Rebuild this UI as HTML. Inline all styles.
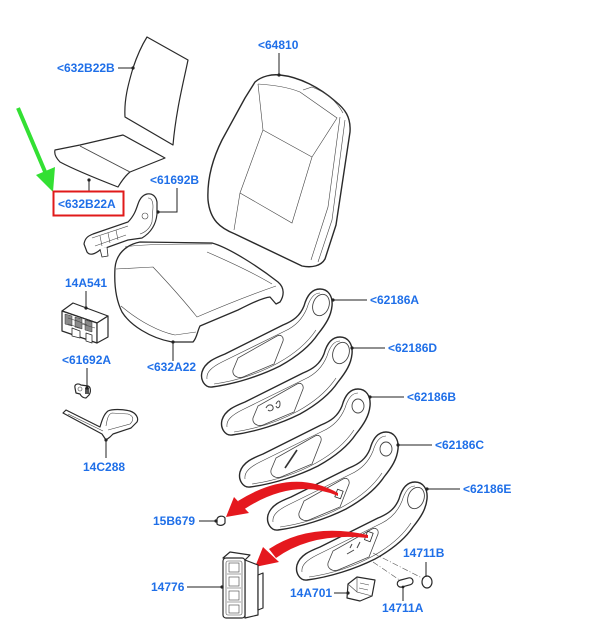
<!DOCTYPE html>
<html><head><meta charset="utf-8">
<style>
html,body{margin:0;padding:0;background:#fff;}
svg{display:block;}
.l{font-family:"Liberation Sans",Arial,sans-serif;font-weight:bold;font-size:12px;fill:#1f6fe8;}
.o{fill:#fff;stroke:#2a2a2a;stroke-width:1.2;stroke-linejoin:round;}
.i{fill:none;stroke:#444;stroke-width:0.6;}
.ld{stroke:#222;stroke-width:1;fill:none;}
</style></head>
<body>
<svg width="600" height="640" viewBox="0 0 600 640" xmlns="http://www.w3.org/2000/svg">
<defs>
<g id="trim">
<path class="o" style="stroke-width:1.4" d="M202,372 C205,362 215,358 225,354 L283,325 C293,321 300,316 304,306 C307,295 312,289 320,289 C328,289 333,296 332,306 C331,316 326,324 318,334 C310,346 298,356 280,366 C260,376 235,384 212,387 C205,388 200,380 202,372 Z"/>
<path class="i" d="M207,379 C206,372 212,367 222,362 L285,331 C296,326 303,318 307,308 C310,298 314,293 320,293"/>
<path class="i" d="M214,384 C235,381 258,374 278,363 C296,353 308,342 316,330"/>
<path class="i" style="stroke-width:0.8" d="M233,370 L238,358 L277,336 C281,334 284,337 283,341 L274,364 L243,377 C237,379 232,375 233,370 Z"/>
</g>
</defs>

<!-- green arrow -->
<line x1="18" y1="108" x2="46" y2="174" stroke="#33e033" stroke-width="4"/>
<polygon points="53,192 36,175 55,167" fill="#33e033"/>

<!-- 632B22B backrest pad -->
<path class="o" d="M147,37 L188,60 C184,80 176,110 173,145 L125,117 C124,100 128,85 133,68 C137,56 142,45 147,37 Z"/>
<line class="ld" x1="118" y1="68" x2="133" y2="68"/><circle cx="133" cy="68" r="1.6" fill="#222"/>
<text class="l" x="57" y="72">&lt;632B22B</text>

<!-- 632B22A seat pad -->
<path class="o" d="M55,150 L80,145 L123,135 L165,158 L130,172 C125,176 121,182 118,187 C100,180 75,170 60,162 C56,158 54,154 55,150 Z"/>
<line class="i" x1="80" y1="146" x2="130" y2="172" style="stroke-width:0.9"/>
<line class="ld" x1="89" y1="180" x2="89" y2="192"/><circle cx="89" cy="180" r="1.6" fill="#222"/>
<rect x="53.5" y="191.5" width="70" height="24" fill="none" stroke="#e01a1a" stroke-width="2"/>
<text class="l" x="58" y="208">&lt;632B22A</text>

<!-- 64810 backrest -->
<path class="o" style="stroke-width:1.4" d="M255,82 C262,76 272,74 280,75 C300,77 320,88 335,101 C345,109 351,117 350,132 L336,225 L325,259 C321,266 312,268 302,266 L235,234 C220,228 210,220 208,200 C207,180 212,160 222,140 L245,98 Z"/>
<path class="i" d="M258,84 L263,130 L240,193 L234,230"/>
<path class="i" d="M263,130 L312,157 L292,223 L240,193"/>
<path class="i" d="M258,84 C275,85 290,88 300,92 L337,118 L312,157"/>
<path class="i" d="M340,117 L328,207 L311,260"/>
<path class="i" d="M345,120 L332,220 L318,262"/>
<path class="i" d="M303,90 L312,87 C325,92 336,100 343,113"/>
<line class="ld" x1="279" y1="53" x2="279" y2="75"/><circle cx="279" cy="75" r="1.6" fill="#222"/>
<text class="l" x="258" y="49">&lt;64810</text>

<!-- 61692B bracket -->
<path class="o" d="M147,194 C152,193 156,196 157,202 L157,214 C156,224 152,232 142,238 L128,240 L100,250 C95,254 90,256 87,252 L84,244 C85,238 88,236 93,234 L128,222 C134,216 136,210 138,204 C140,198 143,195 147,194 Z"/>
<path class="i" d="M148,198 C152,198 153,202 153,207 L152,222 C150,228 146,232 140,234 M92,238 L128,226 M95,246 L126,235"/>
<circle cx="145" cy="216" r="3" class="i"/>
<path class="i" d="M100,236 L102,246 M108,233 L110,243 M116,230 L118,240"/>
<path class="o" style="stroke-width:0.8" d="M100,249 L102,257 L108,256 L107,247"/>
<path class="ld" d="M177,188 L177,212 L158,212"/><circle cx="158" cy="212" r="1.6" fill="#222"/>
<text class="l" x="150" y="184">&lt;61692B</text>

<!-- 632A22 seat cushion -->
<path class="o" style="stroke-width:1.3" d="M115,268 C116,255 125,245 140,242 L212,243 C230,248 260,268 278,282 C285,288 284,296 280,302 L276,304 L270,297 C262,298 250,304 238,310 L200,326 C197,332 197,338 193,342 L172,342 C150,338 130,325 122,312 C116,300 114,285 115,268 Z"/>
<path class="i" d="M116,269 L153,267 C170,285 185,302 197,317 C225,305 250,295 276,286"/>
<path class="i" d="M207,252 C230,262 252,272 272,284"/>
<path class="i" d="M125,247 C140,244 180,244 212,244"/>
<path class="i" d="M121,306 C140,322 160,332 175,335 L196,332"/>
<line class="ld" x1="173" y1="342" x2="173" y2="361"/><circle cx="173" cy="342" r="1.6" fill="#222"/>
<text class="l" x="147" y="371">&lt;632A22</text>

<!-- 14A541 -->
<polygon class="o" points="62,311 73,303 108,316 97,323"/>
<polygon class="o" points="62,311 97,323 97,343 62,331"/>
<polygon class="o" points="97,323 108,316 108,337 97,343"/>
<path d="M65,314 L72,316 L72,326 L65,324 Z M75,317 L82,319 L82,329 L75,327 Z M85,320 L92,322 L92,332 L85,330 Z" fill="#8a8a8a" stroke="#333" stroke-width="0.5"/>
<path class="i" d="M68,318 L80,322 M68,324 L80,328 M75,320 L87,325 M82,324 L95,328"/>
<path class="o" style="stroke-width:0.8" d="M72,328 L72,336 L80,338 L80,331 Z M86,333 L86,341 L92,343 L92,335 Z"/>
<line class="ld" x1="86" y1="291" x2="86" y2="308"/><circle cx="86" cy="308" r="1.6" fill="#222"/>
<text class="l" x="65" y="287">14A541</text>

<!-- 61692A clip -->
<path class="o" d="M75,388 C74,384 78,383 81,385 L88,386 C91,387 91,392 89,395 L86,398 C83,398 81,396 80,394 L76,393 Z"/>
<circle cx="80" cy="389" r="2" class="i"/>
<rect x="85" y="388" width="4" height="6" fill="#555"/>
<line class="ld" x1="87" y1="368" x2="87" y2="388"/><circle cx="87" cy="388" r="1.6" fill="#222"/>
<text class="l" x="62" y="364">&lt;61692A</text>

<!-- 14C288 bracket -->
<path class="o" d="M63,413 L66,410 L100,427 C102,420 104,414 108,411 C112,409 122,409 130,411 C136,413 139,418 137,422 L131,428 L113,434 L110,437 L106,440 L102,434 Z"/>
<path class="i" d="M68,414 L103,431 M108,430 L130,424 C134,420 134,416 128,414 L112,413 C108,414 107,420 106,426"/>
<line class="ld" x1="106" y1="440" x2="106" y2="458"/><circle cx="106" cy="440" r="1.6" fill="#222"/>
<text class="l" x="83" y="471">14C288</text>

<!-- trims -->
<use href="#trim"/>
<use href="#trim" transform="translate(20,48)"/>
<use href="#trim" transform="translate(38,100)"/>
<use href="#trim" transform="translate(66,143)"/>
<use href="#trim" transform="translate(95,193)"/>
<!-- head holes -->
<ellipse cx="321" cy="305" rx="8" ry="11" transform="rotate(20 321 305)" class="i" style="stroke-width:0.9"/>
<ellipse cx="341" cy="353" rx="8" ry="11" transform="rotate(20 341 353)" class="i" style="stroke-width:0.9"/>
<ellipse cx="358" cy="406" rx="6" ry="7" class="i" style="stroke-width:0.9"/>
<ellipse cx="386" cy="449" rx="6" ry="7" class="i" style="stroke-width:0.9"/>
<ellipse cx="416" cy="498" rx="8" ry="11" transform="rotate(20 416 498)" class="i" style="stroke-width:0.9"/>
<!-- D switch icon -->
<path class="i" style="stroke-width:1" d="M266,408 C268,404 272,404 273,407 C274,410 270,412 268,410 M276,404 C278,400 280,400 280,404 C280,408 277,409 276,406"/>
<!-- B slash -->
<line x1="285" y1="468" x2="297" y2="450" stroke="#333" stroke-width="1.6"/>
<!-- C small rect -->
<rect x="336" y="490" width="6" height="8" transform="rotate(20 339 494)" class="o" style="stroke-width:0.8"/>
<!-- E small rect & icon -->
<rect x="366" y="532" width="6" height="9" transform="rotate(20 369 536)" class="o" style="stroke-width:0.8"/>
<path class="i" style="stroke-width:1" d="M347,554 L354,550 M350,548 L352,544 M357,548 L360,542"/>
<!-- dash lines -->
<path d="M373,553 L426,580 M373,562 L404,583" stroke="#555" stroke-width="0.6" stroke-dasharray="6,2,1,2" fill="none"/>

<!-- trim leaders & labels -->
<line class="ld" x1="333" y1="300" x2="367" y2="300"/><circle cx="333" cy="300" r="1.6" fill="#222"/>
<text class="l" x="370" y="304">&lt;62186A</text>
<line class="ld" x1="352" y1="348" x2="385" y2="348"/><circle cx="352" cy="348" r="1.6" fill="#222"/>
<text class="l" x="388" y="352">&lt;62186D</text>
<line class="ld" x1="370" y1="397" x2="404" y2="397"/><circle cx="370" cy="397" r="1.6" fill="#222"/>
<text class="l" x="407" y="401">&lt;62186B</text>
<line class="ld" x1="398" y1="445" x2="432" y2="445"/><circle cx="398" cy="445" r="1.6" fill="#222"/>
<text class="l" x="435" y="449">&lt;62186C</text>
<line class="ld" x1="427" y1="489" x2="460" y2="489"/><circle cx="427" cy="489" r="1.6" fill="#222"/>
<text class="l" x="463" y="493">&lt;62186E</text>

<!-- red arrows -->
<path d="M338,493 Q292,467 238,501 L243,510 Q293,477 338,496 Z" fill="#e5181e"/>
<polygon points="226,517 234,497 249,513" fill="#e5181e"/>
<path d="M368,535 Q310,522 269,549 L276,558 Q312,532 368,538 Z" fill="#e5181e"/>
<polygon points="255,567 263,547 279,562" fill="#e5181e"/>

<!-- 15B679 nut -->
<path class="o" d="M217,519 C218,516 223,515 225,518 L225,523 C223,526 219,526 217,524 Z"/>
<line class="ld" x1="199" y1="521" x2="216" y2="521"/><circle cx="216" cy="521" r="1.6" fill="#222"/>
<text class="l" x="153" y="525">15B679</text>

<!-- 14776 switch pack -->
<path class="o" d="M245,560 L258,565 L258,615 L245,618 Z"/>
<path class="o" d="M258,575 L263,573 L263,608 L258,610 Z"/>
<path class="o" d="M223,558 L230,552 L250,555 L245,560 Z"/>
<rect class="o" x="223" y="558" width="22" height="60" rx="3"/>
<rect class="i" x="226" y="561" width="16" height="54" rx="2"/>
<path class="i" d="M227,574 L241,574 M227,588 L241,588 M227,602 L241,602"/>
<rect class="i" x="229" y="563" width="10" height="9"/><rect class="i" x="229" y="577" width="10" height="9"/><rect class="i" x="229" y="591" width="10" height="9"/><rect class="i" x="229" y="605" width="10" height="8"/>
<line class="ld" x1="187" y1="587" x2="222" y2="587"/><circle cx="222" cy="587" r="1.6" fill="#222"/>
<text class="l" x="151" y="591">14776</text>

<!-- 14A701 -->
<path class="o" d="M348,584 L357,577 L375,580 L372,596 L360,601 L347,598 Z"/>
<path class="i" d="M357,577 L357,592 L372,596 M348,584 L357,592 M360,583 L369,585 M359,588 L368,590"/>
<line class="ld" x1="334" y1="593" x2="348" y2="593"/><circle cx="348" cy="593" r="1.6" fill="#222"/>
<text class="l" x="290" y="597">14A701</text>

<!-- 14711B cap -->
<ellipse class="o" cx="427" cy="582" rx="5" ry="6"/>
<line class="ld" x1="426" y1="562" x2="426" y2="577"/>
<text class="l" x="403" y="557">14711B</text>

<!-- 14711A -->
<rect class="o" x="397" y="579" width="16" height="7" rx="3.5" transform="rotate(-15 405 582)"/>
<line class="ld" x1="403" y1="587" x2="403" y2="601"/><circle cx="403" cy="587" r="1.4" fill="#222"/>
<text class="l" x="382" y="612">14711A</text>
</svg>
</body></html>
